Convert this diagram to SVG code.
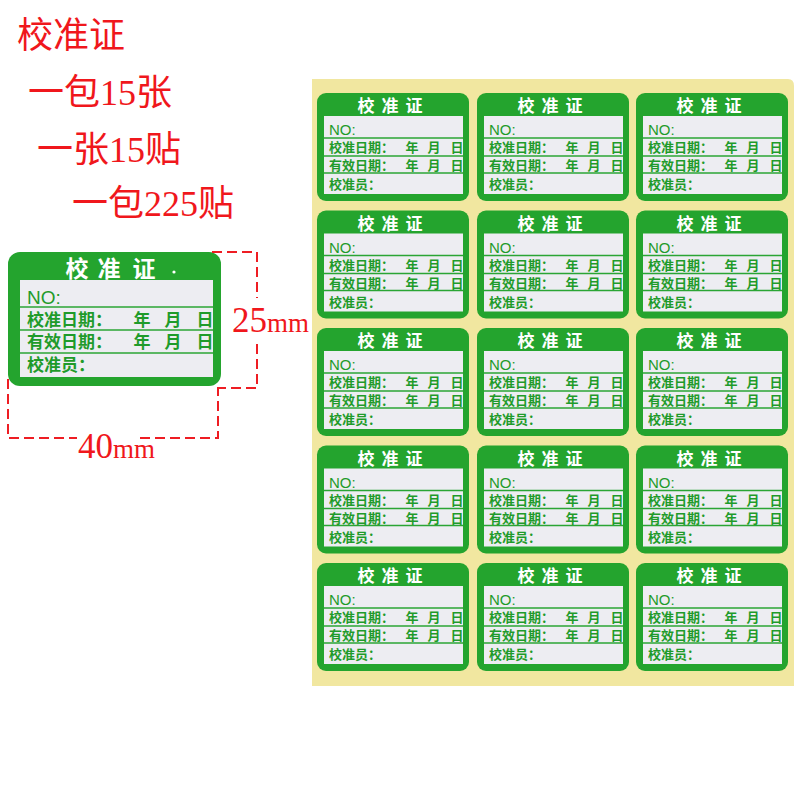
<svg xmlns="http://www.w3.org/2000/svg" xmlns:xlink="http://www.w3.org/1999/xlink" width="800" height="800" viewBox="0 0 800 800">
<style>
.red{fill:#f0171c;font-family:"Liberation Serif","Noto Sans CJK SC",serif;}
.cj{fill:#f0171c;font-family:"Liberation Serif","Noto Sans CJK SC",serif;font-size:36px;}
.dash{fill:none;stroke:#ee1d23;stroke-width:2;stroke-dasharray:10 5;}
.grn{fill:#24a42e;}
.box{fill:#ededf2;}
.div{stroke:#2aa534;stroke-width:1.6;}
.ttl{fill:#ffffff;font-family:"Noto Sans CJK SC",sans-serif;font-weight:bold;text-anchor:middle;}
.lbl{fill:#1f9b2a;font-family:"Liberation Sans","Noto Sans CJK SC",sans-serif;font-weight:bold;}
.no{font-weight:normal;}
.mid{text-anchor:middle;}
</style>
<defs>
<g id="stk">
<rect width="152" height="108" rx="9" class="grn"/>
<rect x="7" y="23" width="139" height="78" class="box"/>
<line x1="7" y1="45" x2="146" y2="45" class="div"/>
<line x1="7" y1="63" x2="146" y2="63" class="div"/>
<line x1="7" y1="80" x2="146" y2="80" class="div"/>
<text class="ttl" x="49 73 97" y="19" font-size="17">校准证</text>
<g class="lbl" font-size="13">
<text class="no" x="12" y="42" font-size="15">NO:</text>
<text x="12" y="59">校准日期：</text>
<text x="12" y="77">有效日期：</text>
<text x="12" y="96">校准员：</text>
<text class="mid" x="95" y="59">年</text>
<text class="mid" x="117" y="59">月</text>
<text class="mid" x="140" y="59">日</text>
<text class="mid" x="95" y="77">年</text>
<text class="mid" x="117" y="77">月</text>
<text class="mid" x="140" y="77">日</text>
</g>
</g>
</defs>
<rect width="800" height="800" fill="#ffffff"/>

<g id="heading">
<text class="cj" x="17" y="48">校准证</text>
<text class="cj" x="28" y="105">一包15张</text>
<text class="cj" x="37" y="162">一张15贴</text>
<text class="cj" x="72" y="216">一包225贴</text>
</g>

<g id="big-label">
<rect x="8" y="252" width="213" height="134" rx="12" class="grn"/>
<rect x="20" y="280" width="193" height="97" class="box"/>
<line x1="20" y1="307" x2="213" y2="307" class="div" stroke-width="2"/>
<line x1="20" y1="330" x2="213" y2="330" class="div" stroke-width="2"/>
<line x1="20" y1="353" x2="213" y2="353" class="div" stroke-width="2"/>
<text class="ttl" x="77 109 144" y="277" font-size="23">校准证</text>
<circle cx="174" cy="272" r="1.6" fill="#ffffff"/>
<g class="lbl" font-size="17">
<text class="no" x="27" y="304" font-size="19">NO:</text>
<text x="27" y="326">校准日期：</text>
<text x="27" y="348">有效日期：</text>
<text x="27" y="371">校准员：</text>
<text class="mid" x="142" y="326">年</text>
<text class="mid" x="173" y="326">月</text>
<text class="mid" x="205" y="326">日</text>
<text class="mid" x="142" y="348">年</text>
<text class="mid" x="173" y="348">月</text>
<text class="mid" x="205" y="348">日</text>
</g>
</g>

<g id="dimensions">
<path class="dash" d="M212 252 H257 V298 M257 344 V388 H217"/>
<path class="dash" d="M8 379 V438 H77 M140 438 H218 V388"/>
<text class="red" x="232" y="332"><tspan font-size="35">25</tspan><tspan font-size="27">mm</tspan></text>
<text class="red" x="78" y="458"><tspan font-size="35">40</tspan><tspan font-size="27">mm</tspan></text>
</g>

<g id="sheet">
<path d="M312 79 H788 Q794 79 794 86 V686 H312 Z" fill="#f1e7a0"/>
</g>

<g id="sticker-r1c1"><use xlink:href="#stk" x="317" y="93"/></g>
<g id="sticker-r1c2"><use xlink:href="#stk" x="477" y="93"/></g>
<g id="sticker-r1c3"><use xlink:href="#stk" x="636" y="93"/></g>
<g id="sticker-r2c1"><use xlink:href="#stk" x="317" y="210.5"/></g>
<g id="sticker-r2c2"><use xlink:href="#stk" x="477" y="210.5"/></g>
<g id="sticker-r2c3"><use xlink:href="#stk" x="636" y="210.5"/></g>
<g id="sticker-r3c1"><use xlink:href="#stk" x="317" y="328"/></g>
<g id="sticker-r3c2"><use xlink:href="#stk" x="477" y="328"/></g>
<g id="sticker-r3c3"><use xlink:href="#stk" x="636" y="328"/></g>
<g id="sticker-r4c1"><use xlink:href="#stk" x="317" y="445.5"/></g>
<g id="sticker-r4c2"><use xlink:href="#stk" x="477" y="445.5"/></g>
<g id="sticker-r4c3"><use xlink:href="#stk" x="636" y="445.5"/></g>
<g id="sticker-r5c1"><use xlink:href="#stk" x="317" y="563"/></g>
<g id="sticker-r5c2"><use xlink:href="#stk" x="477" y="563"/></g>
<g id="sticker-r5c3"><use xlink:href="#stk" x="636" y="563"/></g>
</svg>
